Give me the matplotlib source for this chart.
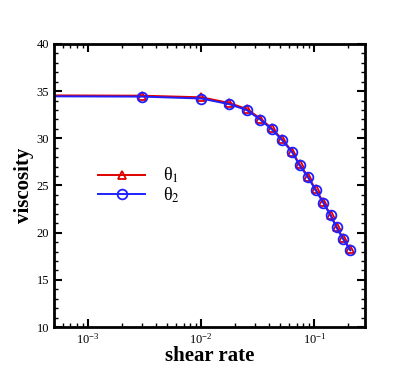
import matplotlib
matplotlib.use('Agg')
import matplotlib.pyplot as plt
from matplotlib.ticker import LogLocator, MultipleLocator, NullFormatter

plt.rcParams['font.family'] = 'Liberation Serif'
plt.rcParams['mathtext.fontset'] = 'stix'

# shear rate samples (first point is the left edge of the curve, no marker)
shear = [5e-4, 0.003, 0.01, 0.0177, 0.0254, 0.0333, 0.0419, 0.052, 0.0638,
         0.074, 0.088, 0.103, 0.12, 0.139, 0.157, 0.18, 0.208]
visc_theta1 = [34.55, 34.52, 34.35, 33.75, 33.1, 32.1, 31.08, 29.9, 28.6,
               27.25, 25.95, 24.58, 23.25, 21.92, 20.65, 19.4, 18.22]
visc_theta2 = [34.45, 34.42, 34.22, 33.62, 32.98, 31.98, 30.97, 29.8, 28.5,
               27.15, 25.85, 24.48, 23.15, 21.82, 20.55, 19.3, 18.12]
labels = ['θ$_1$', 'θ$_2$']

fig = plt.figure(figsize=(4.15, 3.69), dpi=100)
ax = fig.add_axes([0.130, 0.1138, 0.7494, 0.767])

ax.plot(shear, visc_theta1, color='#e00000', lw=1.4, marker='^', ms=6,
        mfc='none', mec='#e00000', mew=1.3, markevery=range(1, len(shear)),
        label=labels[0])
ax.plot(shear, visc_theta2, color='#2020ff', lw=1.4, marker='o', ms=7,
        mfc='none', mec='#2020ff', mew=1.3, markevery=range(1, len(shear)),
        label=labels[1])

ax.set_xscale('log')
ax.set_xlim(5e-4, 0.28)
ax.set_ylim(10, 40)
ax.yaxis.set_major_locator(MultipleLocator(5))
ax.yaxis.set_minor_locator(MultipleLocator(1))
ax.xaxis.set_major_locator(LogLocator(base=10))
ax.xaxis.set_minor_locator(LogLocator(base=10, subs=range(2, 10)))
ax.xaxis.set_minor_formatter(NullFormatter())

ax.tick_params(which='both', direction='in', top=True, right=True, labelsize=9)
ax.tick_params(which='major', length=6, width=1.5)
ax.tick_params(which='minor', length=3, width=1)
for s in ax.spines.values():
    s.set_linewidth(2)

ax.set_xlabel('shear rate', fontsize=15, fontweight='bold', labelpad=0)
ax.set_ylabel('viscosity', fontsize=15, fontweight='bold', labelpad=2)

ax.legend(loc='center left', bbox_to_anchor=(0.09, 0.5), frameon=False,
          fontsize=13, handlelength=2.6, labelspacing=0.0, handletextpad=1.0)

fig.savefig('out.png', dpi=100)
